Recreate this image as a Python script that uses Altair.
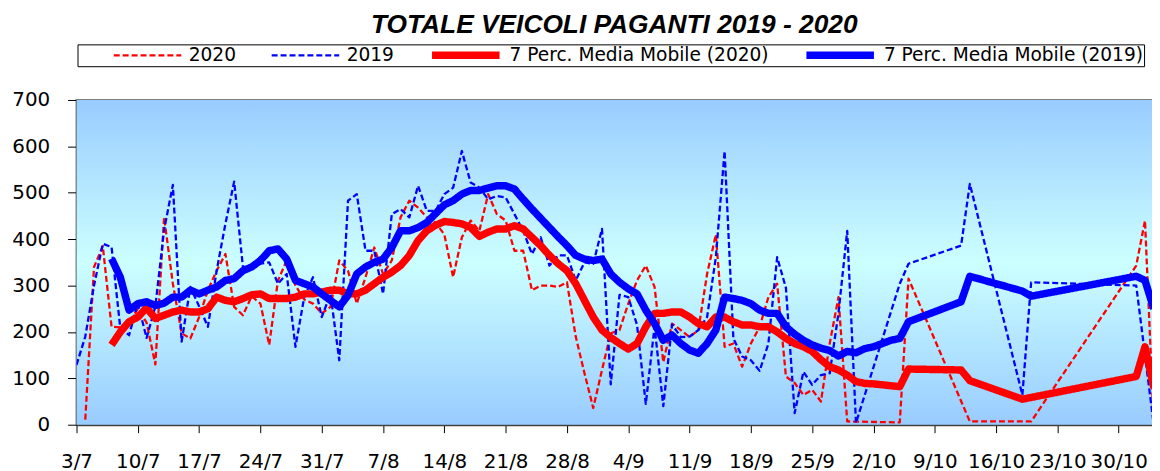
import altair as alt
import pandas as pd

# ---------------- data ----------------
SERIES = ["2020", "2019", "7 Perc. Media Mobile (2020)", "7 Perc. Media Mobile (2019)"]
COLORS = ["#FF0000", "#0000FF", "#FF0000", "#0000FF"]

TICK_DAYS = list(range(0, 120, 7))
TICK_LABELS = ["3/7", "10/7", "17/7", "24/7", "31/7", "7/8", "14/8", "21/8", "28/8",
               "4/9", "11/9", "18/9", "25/9", "2/10", "9/10", "16/10", "23/10", "30/10"]

# day offsets from 3/7
DAYS_2020 = list(range(1, 89)) + [94, 95, 102, 109, 121, 122, 123]
VALUES_2020 = [11, 340, 385, 211, 210, 220, 250, 220, 130, 447,
               304, 197, 186, 232, 290, 332, 368, 254, 236, 277,
               261, 172, 311, 354, 300, 270, 261, 240, 254, 354,
               332, 261, 318, 382, 325, 354, 447, 483, 468, 447,
               435, 410, 318, 404, 440, 418, 497, 454, 440, 375,
               375, 290, 300, 300, 297, 307, 190, 111, 36, 118,
               197, 204, 261, 311, 343, 297, 135, 218, 204, 189,
               204, 325, 410, 168, 175, 125, 175, 211, 275, 304,
               104, 90, 64, 75, 50, 175, 275, 7,
               5, 315, 7, 7, 343, 440, 0]

DAYS_2019 = list(range(0, 90)) + [94, 95, 101, 102, 108, 109, 121, 123]
VALUES_2019 = [129, 190, 300, 390, 383, 208, 193, 262, 187, 255,
               420, 517, 179, 297, 255, 211, 332, 433, 524, 340,
               340, 347, 350, 304, 325, 168, 275, 318, 232, 282,
               139, 483, 497, 375, 375, 282, 454, 465, 447, 515,
               461, 461, 497, 511, 590, 522, 511, 486, 493, 490,
               454, 418, 368, 404, 343, 365, 365, 311, 350, 347,
               422, 87, 280, 275, 215, 45, 211, 40, 216, 189,
               190, 204, 232, 361, 590, 186, 147, 139, 116, 175,
               361, 295, 25, 114, 86, 107, 111, 240, 418, 4,
               304, 347, 386, 519, 64, 307, 300, 0]

DAYS_MA_2020 = list(range(4, 96)) + [101, 102, 108, 121, 122, 123]
VALUES_MA_2020 = [172, 200, 222, 232, 252, 229, 236, 243, 247, 243,
                  243, 250, 275, 268, 265, 272, 280, 282, 272, 272,
                  272, 275, 282, 282, 286, 290, 290, 282, 282, 290,
                  304, 318, 329, 343, 365, 397, 418, 430, 438, 436,
                  433, 425, 406, 415, 422, 422, 429, 422, 404, 386,
                  365, 347, 332, 304, 268, 232, 204, 188, 175, 163,
                  175, 211, 240, 240, 243, 243, 232, 218, 211, 232,
                  232, 222, 215, 215, 211, 211, 200, 186, 175, 168,
                  158, 140, 125, 118, 107, 93, 89, 88, 86, 84,
                  82, 120,
                  118, 95, 55, 104, 168, 80]

DAYS_MA_2019 = list(range(4, 96)) + [101, 102, 108, 109, 121, 122, 123]
VALUES_MA_2019 = [358, 318, 247, 261, 265, 257, 262, 275, 275, 290,
                  282, 290, 297, 311, 315, 332, 340, 354, 375, 379,
                  357, 311, 304, 297, 282, 268, 254, 279, 325, 340,
                  350, 357, 382, 418, 418, 425, 436, 455, 474, 483,
                  497, 505, 505, 510, 515, 515, 508, 486, 465, 445,
                  425, 405, 386, 365, 357, 354, 357, 325, 307, 293,
                  282, 247, 218, 182, 193, 175, 161, 154, 175, 204,
                  275, 272, 268, 261, 247, 240, 240, 211, 195, 182,
                  172, 165, 160, 148, 158, 155, 164, 168, 175, 182,
                  186, 222,
                  265, 320, 288, 277, 320, 311, 250]

frames = []
for name, days, vals in [(SERIES[0], DAYS_2020, VALUES_2020),
                         (SERIES[1], DAYS_2019, VALUES_2019),
                         (SERIES[2], DAYS_MA_2020, VALUES_MA_2020),
                         (SERIES[3], DAYS_MA_2019, VALUES_MA_2019)]:
    assert len(days) == len(vals), name
    frames.append(pd.DataFrame({"day": days, "value": vals, "series": name}))
df = pd.concat(frames, ignore_index=True)

# ---------------- chart ----------------
FONT = "DejaVu Sans"
TITLE_FONT = "Liberation Sans"
label_expr = "[" + ",".join("'%s'" % t for t in TICK_LABELS) + "][round(datum.value / 7)]"

leg = alt.Legend(title=None, orient="none", legendX=1, legendY=-56,
                 direction="horizontal", symbolType="stroke", symbolSize=4624,
                 clipHeight=20, symbolOffset=34, columnPadding=0, labelOffset=6,
                 labelFont=FONT, labelFontSize=18.7, labelColor="black", labelLimit=500,
                 strokeColor="black", fillColor="white", padding=1)

background = alt.Chart(pd.DataFrame({"bg": [0]})).mark_rect(
    fill=alt.LinearGradient(gradient="linear", x1=0, y1=0, x2=0, y2=1,
                            stops=[alt.GradientStop(color="#99CCFF", offset=0),
                                   alt.GradientStop(color="#CCFFFF", offset=0.5),
                                   alt.GradientStop(color="#99CCFF", offset=1)]),
).encode(x=alt.value(0), x2=alt.value("width"), y=alt.value(0), y2=alt.value("height"))

base = alt.Chart(df).mark_line(clip=True, strokeJoin="round").encode(
    x=alt.X("day:Q",
            scale=alt.Scale(domain=[0, 122.8], nice=False, zero=False),
            axis=alt.Axis(values=TICK_DAYS, labelExpr=label_expr, title=None, grid=False,
                          tickSize=8, tickColor="black", labelFontSize=20, labelPadding=19,
                          domainColor="#404040", domainWidth=2, labelOverlap=False,
                          labelFlush=False)),
    y=alt.Y("value:Q",
            scale=alt.Scale(domain=[0, 700], nice=False),
            axis=alt.Axis(values=list(range(0, 701, 100)), title=None, grid=True,
                          gridColor="black", gridWidth=1, gridOpacity=0.75,
                          tickSize=9, tickColor="black", labelFontSize=20, labelPadding=18,
                          domainColor="#404040", domainWidth=2)),
    color=alt.Color("series:N", scale=alt.Scale(type="ordinal", domain=SERIES, range=COLORS),
                    legend=leg),
    strokeDash=alt.StrokeDash("series:N",
                              scale=alt.Scale(type="ordinal", domain=SERIES,
                                              range=[[6, 3], [6, 3], [1, 0], [1, 0]]),
                              legend=leg),
    strokeWidth=alt.StrokeWidth("series:N",
                                scale=alt.Scale(type="ordinal", domain=SERIES,
                                                range=[2.3, 2.3, 7.5, 7.5]),
                                legend=leg),
)

layers = [base.transform_filter(alt.datum.series == s) for s in SERIES]

chart = alt.layer(background, *layers).properties(
    width=1083, height=327,
    title=alt.Title("TOTALE VEICOLI PAGANTI 2019 - 2020", font=TITLE_FONT, fontSize=26.5,
                    fontStyle="italic", fontWeight="bold", anchor="middle", frame="group",
                    color="black", offset=5),
    autosize=alt.AutoSizeParams(type="none"),
    padding={"left": 69, "top": 91, "right": 0, "bottom": 46},
).configure_view(
    stroke="#808080", strokeWidth=2,
).configure_axis(
    labelFont=FONT, labelColor="black",
)

chart.save("out.html", embed_options={"renderer": "svg", "actions": False})
